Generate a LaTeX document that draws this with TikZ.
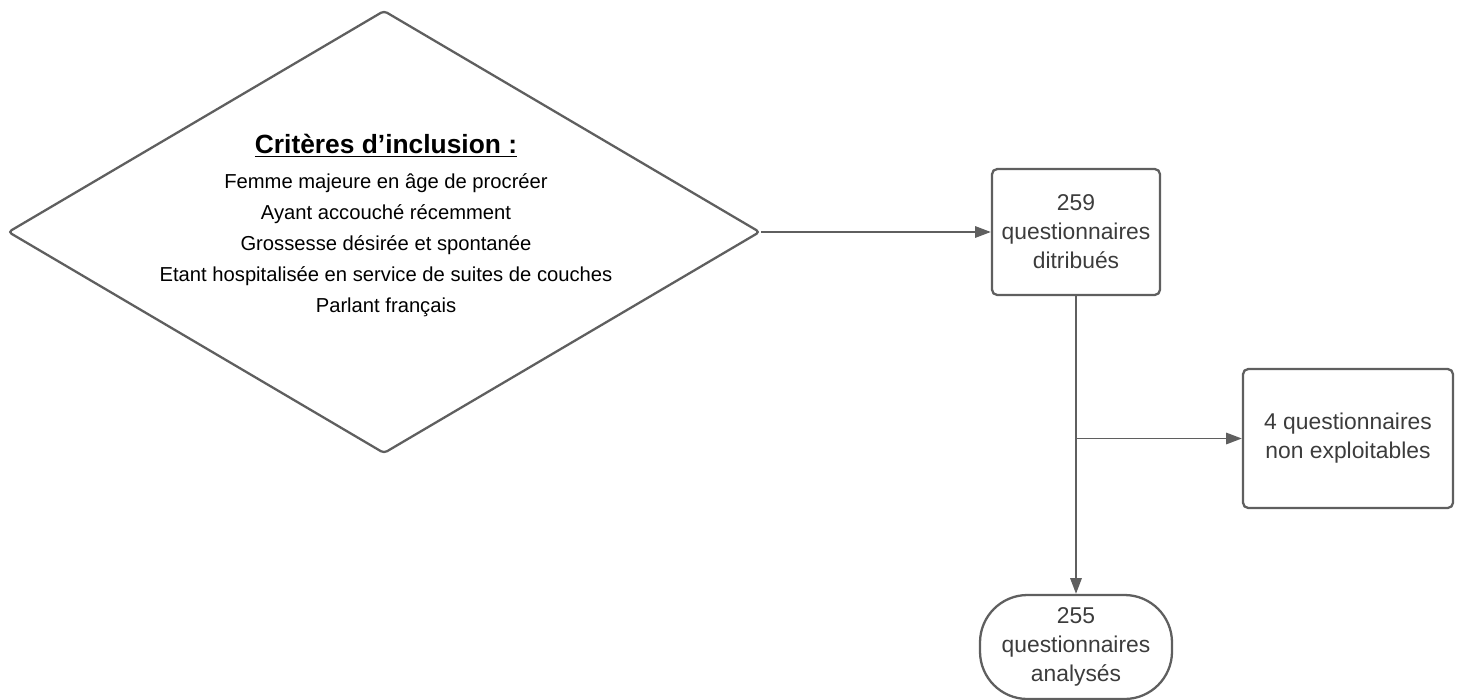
\documentclass[tikz,border=0pt]{standalone}
\usepackage{fontspec}
\setmainfont{Liberation Sans}
\usetikzlibrary{shapes.geometric, arrows.meta, positioning}
\definecolor{lineg}{RGB}{95,95,95}
\definecolor{textg}{RGB}{60,60,60}

\begin{document}
\begin{tikzpicture}[
    crit/.style={diamond, draw=lineg, line width=1.3pt, rounded corners=2pt, minimum width=15.04cm, minimum height=8.86cm, inner sep=0pt},
    box/.style={rectangle, draw=lineg, line width=1.3pt, rounded corners=3pt, text=textg, align=center, font=\fontsize{13}{16.5}\selectfont},
    term/.style={rectangle, draw=lineg, line width=1.3pt, rounded corners=0.95cm, text=textg, align=center, font=\fontsize{13}{16.5}\selectfont},
    arrow/.style={-{Triangle[length=9pt, width=6.5pt]}, draw=lineg, line width=1.1pt}
]
\useasboundingbox (0,0) rectangle (29.24,-14);

% Inclusion criteria
\node[crit] (incl) at (7.68, -4.64) {};
\node[text=black, align=center, font=\fontsize{11.5}{17.6}\selectfont] (critxt) at (7.72, -4.51) {
{\fontsize{15}{18}\selectfont\bfseries\underline{Critères d’inclusion :}}\\[2pt]
Femme majeure en âge de procréer\\
Ayant accouché récemment\\
Grossesse désirée et spontanée\\
Etant hospitalisée en service de suites de couches\\
Parlant français
};

% Questionnaires
\node[box, minimum width=3.36cm, minimum height=2.52cm] (distrib) at (21.52, -4.64) {259\\questionnaires\\ditribués};
\node[box, minimum width=4.2cm, minimum height=2.78cm] (excl) at (26.96, -8.77) {4 questionnaires\\non exploitables};
\node[term, minimum width=3.84cm, minimum height=2.08cm] (analys) at (21.52, -12.94) {255\\questionnaires\\analysés};

% Arrows
\draw[arrow] (incl.east) -- (distrib.west);
\draw[arrow] (distrib.south) -- (analys.north);
\draw[arrow] (distrib.south |- excl.west) -- (excl.west);

\end{tikzpicture}
\end{document}
